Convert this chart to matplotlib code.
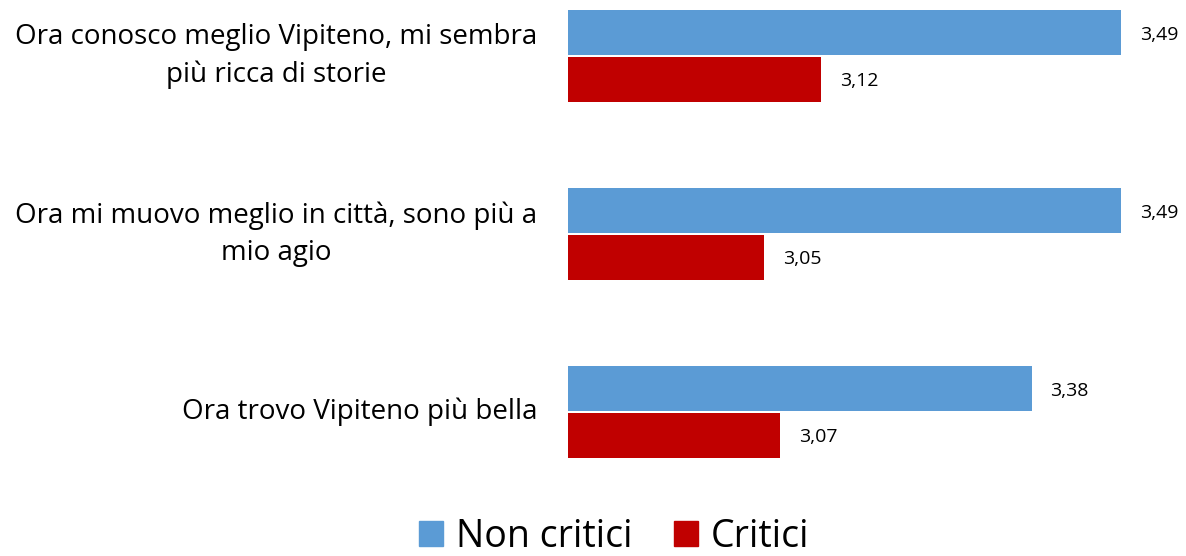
import matplotlib.pyplot as plt
from matplotlib.patches import Patch
from matplotlib.transforms import blended_transform_factory

plt.rcParams['font.family'] = ['Open Sans', 'DejaVu Sans']

# dati
categorie = ["Ora conosco meglio Vipiteno, mi sembra\npiù ricca di storie",
             "Ora mi muovo meglio in città, sono più a\nmio agio",
             "Ora trovo Vipiteno più bella"]
non_critici = [3.49, 3.49, 3.38]
critici = [3.12, 3.05, 3.07]
serie = ["Non critici", "Critici"]
colori = ["#5B9BD5", "#C00000"]

fig = plt.figure(figsize=(11.86, 5.56), dpi=100)
# asse: da x=568px al bordo destro, da y=0 a y=500px
ax = fig.add_axes([568 / 1186, 56 / 556, 618 / 1186, 500 / 556])

pos = list(range(len(categorie)))
h = 0.253
off = 0.1315
ax.barh([p - off for p in pos], non_critici, height=h, color=colori[0])
ax.barh([p + off for p in pos], critici, height=h, color=colori[1])

ax.set_xlim(2.808, 2.808 + 618 / 811)
ax.set_ylim((500 - 56) / 178, -56 / 178)

for p, v in zip(pos, non_critici):
    ax.text(v + 0.023, p - off + 0.015, f"{v:.2f}".replace('.', ','), va='center', ha='left', fontsize=14)
for p, v in zip(pos, critici):
    ax.text(v + 0.023, p + off + 0.01, f"{v:.2f}".replace('.', ','), va='center', ha='left', fontsize=14)

tr = blended_transform_factory(ax.transAxes, ax.transData)
for p, c in zip(pos, categorie):
    ax.text(-31 / 618, p, c, transform=tr, ha='right', va='center',
            multialignment='center', fontsize=20, linespacing=1.45)

ax.axis('off')

handles = [Patch(color=c) for c in colori]
fig.legend(handles, serie, loc='lower center', bbox_to_anchor=(614 / 1186, -0.033),
           ncol=2, frameon=False, fontsize=27, handlelength=0.64, handleheight=0.64,
           handletextpad=0.35, columnspacing=1.1, borderpad=0)

fig.savefig("out.png", dpi=100)
